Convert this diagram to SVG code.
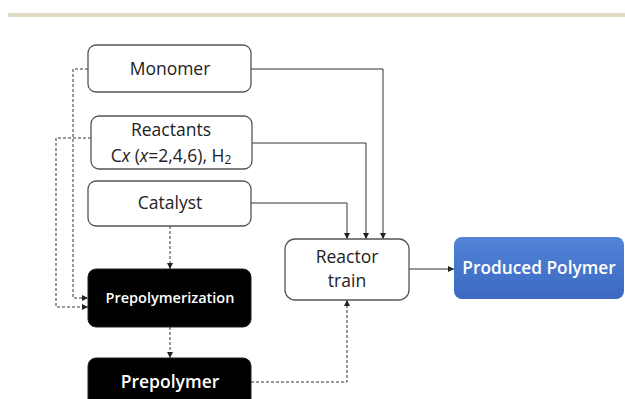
<svg xmlns="http://www.w3.org/2000/svg" width="625" height="399" viewBox="0 0 625 399">
<style>
.box{fill:#fff;stroke:#555;stroke-width:1.3}
.dark{fill:#000;stroke:#222;stroke-width:1}
.t{font-family:"Open Sans","Liberation Sans",Arial,sans-serif;font-size:17.5px;fill:#222;text-anchor:middle;dominant-baseline:central}
.w{fill:#fff}
.solid{fill:none;stroke:#333;stroke-width:1}
.dash{fill:none;stroke:#333;stroke-width:1;stroke-dasharray:3,2}
</style>
<defs>
<marker id="ah" viewBox="0 0 8 8" refX="8" refY="4" markerWidth="6" markerHeight="6" orient="auto" markerUnits="userSpaceOnUse">
<path d="M0,0 L8,4 L0,8 z" fill="#222"/>
</marker>
<linearGradient id="blue" x1="0" y1="0" x2="0" y2="1">
<stop offset="0" stop-color="#5283d6"/>
<stop offset="1" stop-color="#3b69c2"/>
</linearGradient>
</defs>
<rect x="8" y="13" width="617" height="4" fill="#e2dac9"/>
<g id="connectors">
<path class="solid" d="M251,69 H383 V239" marker-end="url(#ah)"/>
<path class="solid" d="M252,143 H366 V239" marker-end="url(#ah)"/>
<path class="solid" d="M251,203 H347 V239" marker-end="url(#ah)"/>
<path class="solid" d="M409,269 H454" marker-end="url(#ah)"/>
<path class="dash" d="M251,382 H347 V300" marker-end="url(#ah)"/>
<path class="dash" d="M170,226 V269" marker-end="url(#ah)"/>
<path class="dash" d="M170,327 V358" marker-end="url(#ah)"/>
<path class="dash" d="M88,69 H73 V298 H88" marker-end="url(#ah)"/>
<path class="dash" d="M91,138 H56 V307 H88" marker-end="url(#ah)"/>
</g>
<g id="monomer">
<rect class="box" x="88" y="45" width="163" height="47" rx="8"/>
<text class="t" x="170" y="68">Monomer</text>
</g>
<g id="reactants">
<rect class="box" x="91" y="116" width="161" height="53" rx="8"/>
<text class="t" x="171" y="129">Reactants</text>
<text class="t" x="171" y="155">C<tspan font-style="italic">x</tspan> (<tspan font-style="italic">x</tspan>=2,4,6), H<tspan font-size="12" dy="4">2</tspan></text>
</g>
<g id="catalyst">
<rect class="box" x="88" y="181" width="163" height="45" rx="8"/>
<text class="t" x="170" y="202">Catalyst</text>
</g>
<g id="prepolymerization">
<rect class="dark" x="88" y="269" width="163" height="58" rx="8"/>
<text class="t w" x="170" y="297" style="font-size:14.5px;font-weight:600">Prepolymerization</text>
</g>
<g id="prepolymer">
<rect class="dark" x="88" y="358" width="163" height="50" rx="8"/>
<text class="t w" x="170" y="381" style="font-size:17.5px;font-weight:600">Prepolymer</text>
</g>
<g id="reactor">
<rect class="box" x="285" y="239" width="124" height="61" rx="10"/>
<text class="t" x="347" y="256">Reactor</text>
<text class="t" x="347" y="280">train</text>
</g>
<g id="produced">
<rect x="454" y="237" width="170" height="62" rx="8" fill="url(#blue)"/>
<text class="t w" x="539" y="267" style="font-size:17.3px;font-weight:600">Produced Polymer</text>
</g>
</svg>
